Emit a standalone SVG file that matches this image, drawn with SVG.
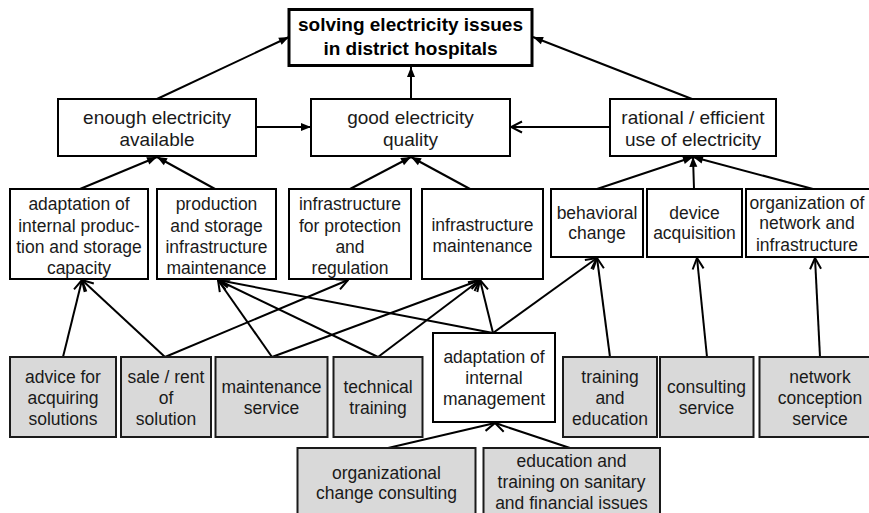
<svg xmlns="http://www.w3.org/2000/svg" width="869" height="513" viewBox="0 0 869 513">
  <style>
    .box { fill: #ffffff; stroke: #000000; stroke-width: 2; }
    .svc { fill: #d9d9d9; stroke: #1a1a1a; stroke-width: 2; }
    .goal { fill: #ffffff; stroke: #000000; stroke-width: 3; }
    text { font-family: "Liberation Sans", Arial, sans-serif; fill: #1a1a1a; text-anchor: middle; }
    .t1 { font-size: 19px; }
    .t2 { font-size: 17.5px; }
    .tb { font-size: 19px; font-weight: bold; fill: #000000; }
    .ln { stroke: #000000; stroke-width: 2; fill: none; }
    .f { marker-end: url(#tri); }
    .o { marker-end: url(#vee); }
  </style>
  <defs>
    <marker id="tri" markerUnits="userSpaceOnUse" markerWidth="12" markerHeight="12" viewBox="0 0 12 12" refX="11" refY="6" orient="auto">
      <path d="M1,2 L11,6 L1,10 Z" fill="#000000"/>
    </marker>
    <marker id="vee" markerUnits="userSpaceOnUse" markerWidth="14" markerHeight="14" viewBox="0 0 14 14" refX="13" refY="7" orient="auto">
      <path d="M2,1.5 L13,7 L2,12.5" fill="none" stroke="#000000" stroke-width="2"/>
    </marker>
  </defs>

  <!-- connectors -->
  <g id="connectors">
    <line class="ln f" x1="157" y1="99" x2="289" y2="37"/>
    <line class="ln f" x1="411" y1="99" x2="411" y2="67"/>
    <line class="ln f" x1="692" y1="99" x2="533" y2="37"/>
    <line class="ln f" x1="256" y1="127" x2="311" y2="127"/>
    <line class="ln o" x1="610" y1="127" x2="511" y2="127"/>
    <line class="ln f" x1="80" y1="189" x2="157" y2="157"/>
    <line class="ln f" x1="215" y1="189" x2="157" y2="157"/>
    <line class="ln f" x1="350" y1="189" x2="411" y2="157"/>
    <line class="ln f" x1="470" y1="189" x2="411" y2="157"/>
    <line class="ln f" x1="597" y1="189" x2="693" y2="157"/>
    <line class="ln f" x1="694" y1="189" x2="693" y2="157"/>
    <line class="ln f" x1="813" y1="189" x2="693" y2="157"/>
    <line class="ln o" x1="63" y1="357" x2="82" y2="280"/>
    <line class="ln o" x1="165" y1="357" x2="82" y2="280"/>
    <line class="ln o" x1="165" y1="357" x2="348" y2="280"/>
    <line class="ln o" x1="272" y1="357" x2="218" y2="280"/>
    <line class="ln o" x1="272" y1="357" x2="480" y2="280"/>
    <line class="ln o" x1="378" y1="357" x2="218" y2="280"/>
    <line class="ln o" x1="378" y1="357" x2="480" y2="280"/>
    <line class="ln o" x1="493" y1="333" x2="218" y2="280"/>
    <line class="ln o" x1="493" y1="333" x2="480" y2="280"/>
    <line class="ln o" x1="493" y1="333" x2="597" y2="258"/>
    <line class="ln o" x1="610" y1="357" x2="597" y2="258"/>
    <line class="ln o" x1="707" y1="357" x2="697" y2="258"/>
    <line class="ln o" x1="820" y1="357" x2="815" y2="258"/>
    <line class="ln o" x1="388" y1="448" x2="495" y2="423"/>
    <line class="ln o" x1="570" y1="448" x2="495" y2="423"/>
  </g>

  <!-- goal -->
  <g id="goal">
    <rect class="goal" x="289" y="9.5" width="243" height="56"/>
    <text class="tb" x="410.5" y="31">solving electricity issues</text>
    <text class="tb" x="410.5" y="55">in district hospitals</text>
  </g>

  <!-- first level -->
  <g id="enough">
    <rect class="box" x="58" y="99" width="198" height="57"/>
    <text class="t1" x="157" y="123.5">enough electricity</text>
    <text class="t1" x="157" y="145.5">available</text>
  </g>
  <g id="quality">
    <rect class="box" x="311" y="99" width="199" height="57"/>
    <text class="t1" x="410.5" y="123.5">good electricity</text>
    <text class="t1" x="410.5" y="145.5">quality</text>
  </g>
  <g id="rational">
    <rect class="box" x="610" y="99" width="166" height="57"/>
    <text class="t1" x="693" y="123.5">rational / efficient</text>
    <text class="t1" x="693" y="145.5">use of electricity</text>
  </g>

  <!-- second level -->
  <g id="internal-production">
    <rect class="box" x="10" y="189" width="138" height="90"/>
    <text class="t2" x="79" y="210">adaptation of</text>
    <text class="t2" x="79" y="231.5">internal produc-</text>
    <text class="t2" x="79" y="253">tion and storage</text>
    <text class="t2" x="79" y="274">capacity</text>
  </g>
  <g id="storage-maintenance">
    <rect class="box" x="157" y="189" width="119" height="90"/>
    <text class="t2" x="216.5" y="210">production</text>
    <text class="t2" x="216.5" y="231.5">and storage</text>
    <text class="t2" x="216.5" y="253">infrastructure</text>
    <text class="t2" x="216.5" y="274">maintenance</text>
  </g>
  <g id="protection">
    <rect class="box" x="289" y="189" width="122" height="90"/>
    <text class="t2" x="350" y="210">infrastructure</text>
    <text class="t2" x="350" y="231.5">for protection</text>
    <text class="t2" x="350" y="253">and</text>
    <text class="t2" x="350" y="274">regulation</text>
  </g>
  <g id="infra-maintenance">
    <rect class="box" x="422" y="189" width="121" height="90"/>
    <text class="t2" x="482.5" y="231">infrastructure</text>
    <text class="t2" x="482.5" y="252">maintenance</text>
  </g>
  <g id="behavioral">
    <rect class="box" x="551" y="189" width="92" height="68"/>
    <text class="t2" x="597" y="219">behavioral</text>
    <text class="t2" x="597" y="239">change</text>
  </g>
  <g id="device">
    <rect class="box" x="647" y="189" width="95" height="68"/>
    <text class="t2" x="694.5" y="219">device</text>
    <text class="t2" x="694.5" y="239">acquisition</text>
  </g>
  <g id="organization">
    <rect class="box" x="746" y="189" width="128" height="68"/>
    <text class="t2" x="807" y="209">organization of</text>
    <text class="t2" x="807" y="229">network and</text>
    <text class="t2" x="807" y="251">infrastructure</text>
  </g>

  <!-- services -->
  <g id="advice">
    <rect class="svc" x="10" y="357" width="106" height="80"/>
    <text class="t2" x="63" y="382.5">advice for</text>
    <text class="t2" x="63" y="404">acquiring</text>
    <text class="t2" x="63" y="425">solutions</text>
  </g>
  <g id="sale">
    <rect class="svc" x="121" y="357" width="90" height="80"/>
    <text class="t2" x="166" y="382.5">sale / rent</text>
    <text class="t2" x="166" y="404">of</text>
    <text class="t2" x="166" y="425">solution</text>
  </g>
  <g id="maintenance-service">
    <rect class="svc" x="215.5" y="357" width="112" height="80"/>
    <text class="t2" x="271.5" y="393">maintenance</text>
    <text class="t2" x="271.5" y="414">service</text>
  </g>
  <g id="technical-training">
    <rect class="svc" x="333.5" y="357" width="89" height="80"/>
    <text class="t2" x="378" y="393">technical</text>
    <text class="t2" x="378" y="414">training</text>
  </g>
  <g id="internal-management">
    <rect class="box" x="433" y="333" width="122" height="89"/>
    <text class="t2" x="494" y="363">adaptation of</text>
    <text class="t2" x="494" y="384">internal</text>
    <text class="t2" x="494" y="405">management</text>
  </g>
  <g id="training-education">
    <rect class="svc" x="563" y="357" width="94" height="80"/>
    <text class="t2" x="610" y="382.5">training</text>
    <text class="t2" x="610" y="404">and</text>
    <text class="t2" x="610" y="425">education</text>
  </g>
  <g id="consulting">
    <rect class="svc" x="660" y="357" width="93.5" height="80"/>
    <text class="t2" x="706.5" y="393">consulting</text>
    <text class="t2" x="706.5" y="414">service</text>
  </g>
  <g id="network-conception">
    <rect class="svc" x="759.5" y="357" width="115" height="80"/>
    <text class="t2" x="820" y="382.5">network</text>
    <text class="t2" x="820" y="404">conception</text>
    <text class="t2" x="820" y="425">service</text>
  </g>
  <g id="org-change">
    <rect class="svc" x="297.5" y="448" width="178" height="70"/>
    <text class="t2" x="386.5" y="479">organizational</text>
    <text class="t2" x="386.5" y="499">change consulting</text>
  </g>
  <g id="sanitary-financial">
    <rect class="svc" x="483.5" y="448" width="176.5" height="70"/>
    <text class="t2" x="571.5" y="467">education and</text>
    <text class="t2" x="571.5" y="488">training on sanitary</text>
    <text class="t2" x="571.5" y="509">and financial issues</text>
  </g>
</svg>
